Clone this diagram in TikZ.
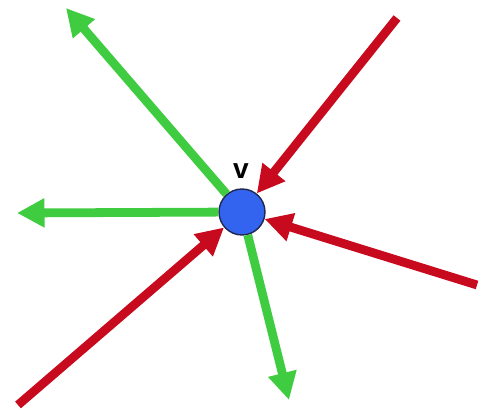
\documentclass[tikz,border=0pt]{standalone}
\usepackage{fontspec}
\setmainfont{Liberation Sans}
\usetikzlibrary{arrows.meta}
\definecolor{gruen}{RGB}{64,204,64}
\definecolor{rot}{RGB}{200,10,30}
\definecolor{blau}{RGB}{50,100,240}
\definecolor{rand}{RGB}{30,40,80}

\begin{document}
\begin{tikzpicture}[x=0.02cm,y=-0.02cm,
  aus/.style={draw=gruen,line width=5pt,-{Triangle[length=0.55cm,width=0.55cm]}},
  ein/.style={draw=rot,line width=5pt,-{Triangle[length=0.55cm,width=0.55cm]}}]
  \useasboundingbox (0,0) rectangle (485,411);

  \node[circle,draw=rand,fill=blau,line width=0.8pt,minimum size=0.92cm,inner sep=0pt] (v) at (242,212) {};
  \node[font=\bfseries\fontsize{16}{16}\selectfont] (vlab) at (241,171) {v};

  % outgoing
  \coordinate (o1) at (66,8);
  \coordinate (o2) at (17,213);
  \coordinate (o3) at (289,400);
  \draw[aus] (v) -- (o1);
  \draw[aus] (v) -- (o2);
  \draw[aus] (v) -- (o3);

  % incoming
  \coordinate (i1) at (397,18);
  \coordinate (i2) at (477,285);
  \coordinate (i3) at (18,405);
  \draw[ein] (i1) -- (v);
  \draw[ein] (i2) -- (v);
  \draw[ein] (i3) -- (v);
\end{tikzpicture}
\end{document}
